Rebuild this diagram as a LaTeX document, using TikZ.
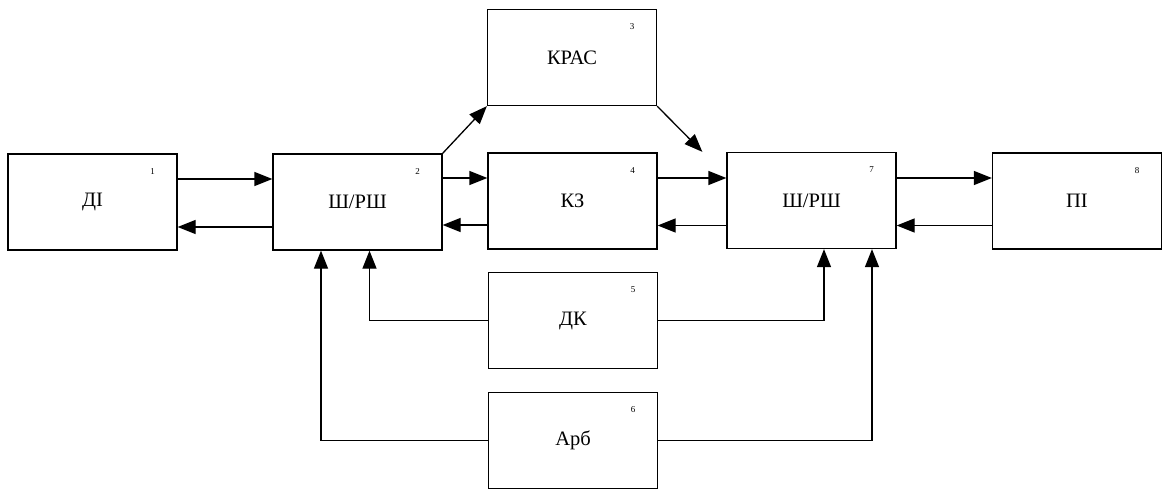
\documentclass[tikz,border=0pt]{standalone}
\usepackage{fontspec}
\setmainfont{Liberation Serif}
\usetikzlibrary{arrows.meta}
\begin{document}
\begin{tikzpicture}[
    x=1pt, y=-1pt,
    blk/.style={draw, line width=1.3pt, minimum width=169pt, minimum height=96pt,
                inner sep=0pt, font=\fontsize{20.5}{24}\selectfont},
    num/.style={font=\fontsize{9}{10}\selectfont, inner sep=0pt},
    arr/.style={-{Triangle[length=18pt,width=14pt]}, line width=1.3pt}
]
\useasboundingbox (0,0) rectangle (1162,490);
\node[blk] (di)    at (92.5,  202)  {ДІ};
\node[blk] (shl)   at (357.5, 202)  {Ш/РШ};
\node[blk] (kras)  at (572,   57.5) {КРАС};
\node[blk] (kz)    at (572.5, 201)  {КЗ};
\node[blk] (dk)    at (573,   320.5) {ДК};
\node[blk] (arb)   at (573,   440.5) {Арб};
\node[blk] (shr)   at (811.5, 200.5) {Ш/РШ};
\node[blk] (pi)    at (1077,  201)  {ПІ};

\node[num] (n1) at ([xshift=-25pt,yshift=-18pt]di.north east)   {1};
\node[num] (n2) at ([xshift=-25pt,yshift=-18pt]shl.north east)  {2};
\node[num] (n3) at ([xshift=-25pt,yshift=-18pt]kras.north east) {3};
\node[num] (n4) at ([xshift=-25pt,yshift=-18pt]kz.north east)   {4};
\node[num] (n5) at ([xshift=-25pt,yshift=-18pt]dk.north east)   {5};
\node[num] (n6) at ([xshift=-25pt,yshift=-18pt]arb.north east)  {6};
\node[num] (n7) at ([xshift=-25pt,yshift=-18pt]shr.north east)  {7};
\node[num] (n8) at ([xshift=-25pt,yshift=-18pt]pi.north east)   {8};

\coordinate (kin) at ([xshift=-24pt]shr.north west);

% upper row, forward and back
\draw[arr] ([yshift=23pt]di.east)   -- ([yshift=23pt]di.east -| shl.west);
\draw[arr] ([yshift=-25pt]shl.west) -- ([yshift=-25pt]shl.west -| di.east);
\draw[arr] ([yshift=24pt]shl.east)  -- ([yshift=24pt]shl.east -| kz.west);
\draw[arr] ([yshift=-24pt]kz.west)  -- ([yshift=-24pt]kz.west -| shl.east);
\draw[arr] ([yshift=23pt]kz.east)   -- ([yshift=23pt]kz.east -| shr.west);
\draw[arr] ([yshift=-25pt]shr.west) -- ([yshift=-25pt]shr.west -| kz.east);
\draw[arr] ([yshift=22.5pt]shr.east) -- ([yshift=22.5pt]shr.east -| pi.west);
\draw[arr] ([yshift=-24.5pt]pi.west) -- ([yshift=-24.5pt]pi.west -| shr.east);
\draw[arr] (shl.north east) -- (kras.south west);
\draw[arr] (kras.south east) -- (kin);

% lower blocks
\draw[arr] (dk.west)  -| ([xshift=12pt]shl.south);
\draw[arr] (dk.east)  -| ([xshift=12.5pt]shr.south);
\draw[arr] (arb.west) -| ([xshift=-36.5pt]shl.south);
\draw[arr] (arb.east) -| ([xshift=60.5pt]shr.south);
\end{tikzpicture}
\end{document}
